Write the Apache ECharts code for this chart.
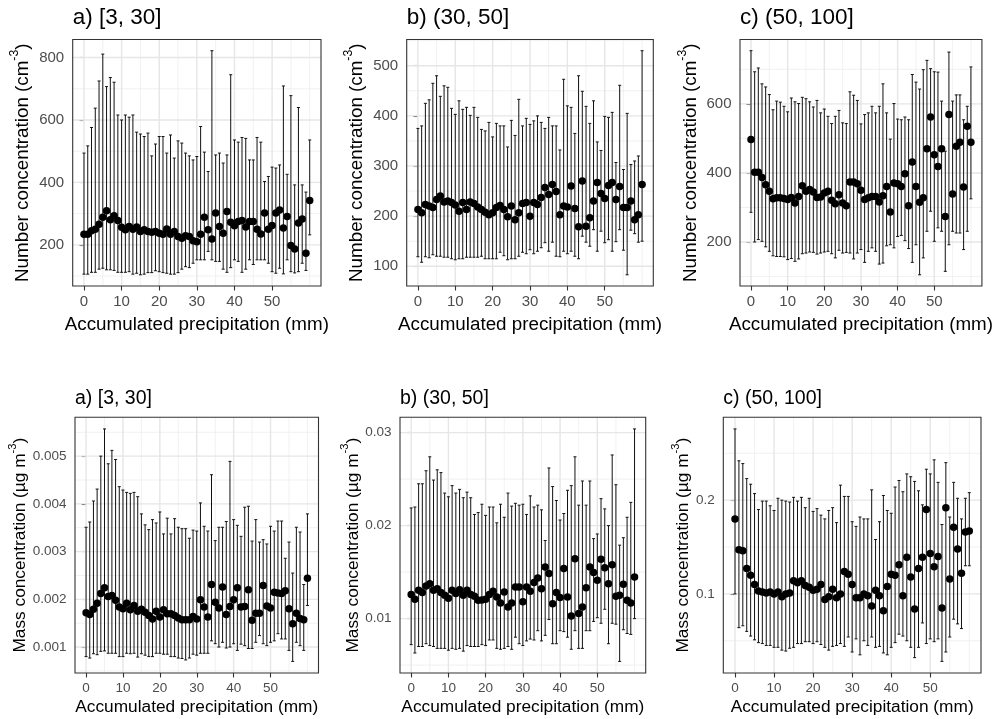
<!DOCTYPE html>
<html>
<head>
<meta charset="utf-8">
<script src="https://cdn.jsdelivr.net/npm/echarts@6/dist/echarts.min.js"></script>
<style>
  html, body { margin: 0; padding: 0; background: #fff; }
  #chart { width: 995px; height: 719px; }
</style>
</head>
<body>
<div id="chart"></div>
<script>
const FONT = "'Liberation Sans', Arial, sans-serif";

// accumulated precipitation (mm), shared by all panels
const precip = [0,1,2,3,4,5,6,7,8,9,10,11,12,13,14,15,16,17,18,19,20,21,22,23,24,25,26,27,28,29,30,
  31,32,33,34,35,36,37,38,39,40,41,42,43,44,45,46,47,48,49,50,51,52,53,54,55,56,57,58,59,60];
const xTicks = [0, 10, 20, 30, 40, 50];
const xMinor = [5, 15, 25, 35, 45, 55, 60];

// number concentration, a) [3, 30]
const nA_mean = [234,234,245,250,266,288,309,280,293,278,256,248,259,250,257,243,248,243,240,243,237,234,251,234,243,227,221,229,227,213,
  210,234,288,248,219,302,259,237,307,272,261,275,278,257,275,275,250,235,302,250,262,302,312,254,291,198,187,270,283,173,342];
const nA_hi = [494,517,576,638,725,811,707,736,721,616,600,616,609,616,561,555,547,558,485,523,547,547,494,552,478,533,526,494,485,472,
  483,579,497,435,822,488,494,462,488,745,536,529,544,541,472,472,544,529,403,419,449,446,456,709,426,678,392,640,392,369,536];
const nA_lo = [106,106,112,112,122,125,120,120,118,112,112,112,114,106,109,104,106,111,111,117,114,111,109,106,106,111,122,130,127,141,
  152,152,152,179,152,147,147,122,112,127,152,147,112,122,152,137,152,152,152,141,114,109,125,107,152,114,110,114,141,118,232];
const nA_ticks = [200, 400, 600, 800];

// number concentration, b) (30, 50]
const nB_mean = [213,207,223,220,217,233,240,228,230,227,222,210,227,213,228,225,218,213,208,203,207,217,221,213,199,220,193,207,225,227,
  200,227,223,237,257,243,263,249,203,220,218,260,215,179,270,180,197,230,267,245,235,261,267,233,259,217,217,230,193,203,263];
const nB_hi = [375,380,425,432,465,480,439,460,457,415,403,430,413,417,401,417,397,373,370,387,358,385,380,380,338,391,361,433,380,395,
  383,390,400,387,375,397,380,380,332,473,420,417,365,480,449,419,385,430,348,331,399,397,407,307,461,293,405,303,310,320,530];
const nB_lo = [119,108,119,117,123,120,120,118,118,115,113,115,115,118,118,118,118,120,115,115,115,115,128,121,113,115,115,120,128,125,
  133,125,130,137,147,130,148,120,119,130,125,130,120,115,160,148,140,173,130,170,147,153,130,149,173,132,83,172,165,148,150];
const nB_ticks = [100, 200, 300, 400, 500];

// number concentration, c) (50, 100]
const nC_mean = [497,402,402,387,366,347,325,328,328,326,323,329,313,332,363,347,352,345,329,330,342,347,321,311,337,313,305,374,374,369,
  350,323,328,332,332,316,334,361,287,371,369,361,398,305,432,361,315,328,470,562,453,419,470,274,569,339,477,489,359,535,489];
const nC_hi = [754,693,704,658,649,627,583,608,605,593,577,617,606,601,619,615,606,591,610,574,585,564,543,564,581,545,543,635,625,610,
  542,569,574,593,574,593,658,574,498,601,556,554,562,554,685,663,643,699,726,702,693,692,608,463,750,608,626,626,554,593,707];
const nC_lo = [286,200,207,202,186,173,160,158,158,157,149,152,144,151,166,168,171,170,165,168,171,173,166,154,176,168,170,168,151,168,
  178,141,173,183,173,136,139,189,192,183,216,219,204,181,141,192,105,154,231,289,202,241,231,115,192,231,226,226,178,231,325];
const nC_ticks = [200, 400, 600];

// mass concentration, a) [3, 30]
const mA_mean = [0.00172,0.00168,0.00179,0.00192,0.00212,0.00224,0.00206,0.00208,0.00198,0.00184,0.00180,0.00192,0.00178,0.00187,0.00175,
  0.00179,0.00173,0.00166,0.00159,0.00175,0.00163,0.00178,0.00170,0.00170,0.00166,0.00161,0.00157,0.00157,0.00157,0.00164,
  0.00159,0.00199,0.00184,0.00163,0.00231,0.00194,0.00182,0.00226,0.00168,0.00185,0.00199,0.00224,0.00184,0.00185,0.00220,
  0.00156,0.00171,0.00171,0.00229,0.00186,0.00182,0.00215,0.00213,0.00212,0.00218,0.00180,0.00149,0.00171,0.00160,0.00157,0.00244];
const mA_hi = [0.00351,0.00362,0.00406,0.00431,0.00500,0.00557,0.00484,0.00512,0.00493,0.00436,0.00429,0.00424,0.00422,0.00424,0.00415,
  0.00379,0.00356,0.00346,0.00367,0.00360,0.00383,0.00337,0.00370,0.00337,0.00369,0.00351,0.00348,0.00348,0.00328,0.00345,
  0.00343,0.00402,0.00353,0.00343,0.00461,0.00323,0.00351,0.00351,0.00363,0.00489,0.00367,0.00355,0.00332,0.00393,0.00395,
  0.00322,0.00367,0.00320,0.00325,0.00316,0.00353,0.00343,0.00364,0.00364,0.00286,0.00320,0.00255,0.00351,0.00341,0.00231,0.00379];
const mA_lo = [0.00080,0.00077,0.00086,0.00084,0.00091,0.00092,0.00087,0.00087,0.00087,0.00080,0.00080,0.00087,0.00086,0.00087,0.00079,
  0.00086,0.00083,0.00080,0.00080,0.00087,0.00087,0.00085,0.00085,0.00080,0.00080,0.00077,0.00076,0.00073,0.00077,0.00085,
  0.00083,0.00087,0.00087,0.00087,0.00113,0.00107,0.00100,0.00110,0.00098,0.00100,0.00107,0.00093,0.00106,0.00103,0.00097,
  0.00097,0.00110,0.00124,0.00107,0.00103,0.00110,0.00113,0.00128,0.00117,0.00117,0.00093,0.00070,0.00110,0.00103,0.00093,0.00187];
const mA_ticks = [0.001, 0.002, 0.003, 0.004, 0.005];

// mass concentration, b) (30, 50]
const mB_mean = [0.01258,0.01208,0.01305,0.0128,0.0135,0.01376,0.01305,0.0132,0.0128,0.0125,0.0122,0.01305,0.0127,0.0131,0.0125,
  0.01305,0.01258,0.0124,0.01197,0.0120,0.01208,0.01258,0.01294,0.01233,0.01168,0.01287,0.01125,0.01168,0.0134,0.0134,
  0.0118,0.0134,0.01294,0.01387,0.01437,0.0132,0.01556,0.01484,0.01161,0.0128,0.01226,0.01538,0.01233,0.01029,0.01645,
  0.01054,0.01125,0.01333,0.01556,0.01495,0.01412,0.01638,0.01548,0.01376,0.0158,0.0124,0.0125,0.0137,0.01197,0.01168,0.01448];
const mB_hi = [0.0219,0.0220,0.0245,0.0245,0.0259,0.0274,0.0249,0.0260,0.0257,0.0235,0.0231,0.0243,0.0235,0.0239,0.0230,
  0.0236,0.0230,0.0212,0.0214,0.0223,0.0211,0.0220,0.0220,0.0203,0.0223,0.0209,0.0235,0.0221,0.0224,0.0222,
  0.0223,0.0212,0.0232,0.0220,0.0222,0.0217,0.0184,0.0262,0.0242,0.0227,0.0206,0.0213,0.0238,0.0243,0.0274,
  0.0222,0.0248,0.0222,0.0248,0.0186,0.0191,0.0229,0.0218,0.0200,0.0276,0.0244,0.0179,0.0187,0.0209,0.0225,0.0304];
const mB_lo = [0.0072,0.0063,0.0070,0.0070,0.0073,0.0071,0.0070,0.0068,0.0068,0.0068,0.0066,0.0068,0.0067,0.0068,0.0065,
  0.0071,0.0070,0.0070,0.0070,0.0072,0.0071,0.0077,0.0077,0.0068,0.0067,0.0068,0.0070,0.0067,0.0080,0.0073,
  0.0071,0.0076,0.0078,0.0077,0.0087,0.0076,0.0082,0.0099,0.0073,0.0073,0.0087,0.0086,0.0080,0.0067,0.0087,
  0.0068,0.0068,0.0087,0.0087,0.0097,0.0101,0.0095,0.0110,0.0073,0.0095,0.0094,0.0054,0.0088,0.0084,0.0083,0.0100];
const mB_ticks = [0.01, 0.02, 0.03];

// mass concentration, c) (50, 100]
const mC_mean = [0.180,0.147,0.146,0.127,0.120,0.110,0.103,0.102,0.101,0.102,0.100,0.102,0.097,0.100,0.101,0.114,0.112,0.114,0.109,0.107,
  0.104,0.105,0.110,0.094,0.097,0.105,0.096,0.100,0.124,0.121,0.110,0.096,0.096,0.100,0.098,0.087,0.104,0.098,0.082,0.108,
  0.121,0.120,0.131,0.098,0.139,0.118,0.084,0.127,0.139,0.190,0.143,0.129,0.140,0.085,0.192,0.116,0.171,0.148,0.122,0.166,0.167];
const mC_hi = [0.276,0.242,0.239,0.223,0.217,0.207,0.190,0.199,0.199,0.194,0.189,0.202,0.200,0.199,0.198,0.203,0.199,0.203,0.192,0.202,
  0.188,0.191,0.184,0.180,0.189,0.192,0.176,0.216,0.204,0.204,0.177,0.172,0.182,0.180,0.180,0.211,0.158,0.177,0.205,0.189,
  0.186,0.214,0.221,0.209,0.228,0.225,0.220,0.210,0.195,0.233,0.228,0.243,0.219,0.174,0.240,0.182,0.219,0.202,0.180,0.202,0.208];
const mC_lo = [0.100,0.064,0.066,0.060,0.055,0.051,0.048,0.047,0.045,0.045,0.043,0.043,0.040,0.039,0.042,0.043,0.047,0.047,0.049,0.049,
  0.047,0.049,0.046,0.043,0.040,0.044,0.045,0.047,0.044,0.054,0.038,0.052,0.035,0.050,0.045,0.054,0.043,0.044,0.037,0.035,
  0.043,0.048,0.057,0.055,0.050,0.043,0.032,0.043,0.069,0.047,0.052,0.049,0.052,0.028,0.038,0.054,0.073,0.068,0.063,0.130,0.130];
const mC_ticks = [0.1, 0.2];

const NUM_NAME = '{t|Number concentration (cm}{s|-3}{t|)}';
const MASS_NAME = '{t|Mass concentration (µg m}{s|-3}{t|)}';
const X_NAME = 'Accumulated precipitation (mm)';

// text sizes per row, and panel rectangles [left, top, width, height]
const rowTop = { title: 22.5, name: 18.8, tick: 15, titleTop: 6.5, xGap: 29 };
const rowBot = { title: 19.5, name: 17.3, tick: 13.5, titleTop: 389, xGap: 26 };
const panels = [
  { title: 'a) [3, 30]',   mean: nA_mean, lo: nA_lo, hi: nA_hi, ticks: nA_ticks, yName: NUM_NAME,  box: [72.7, 39.5, 248.3, 246.5], s: rowTop, yGap: 40 },
  { title: 'b) (30, 50]',  mean: nB_mean, lo: nB_lo, hi: nB_hi, ticks: nB_ticks, yName: NUM_NAME,  box: [406.7, 39.5, 246.6, 246.5], s: rowTop, yGap: 40 },
  { title: 'c) (50, 100]', mean: nC_mean, lo: nC_lo, hi: nC_hi, ticks: nC_ticks, yName: NUM_NAME,  box: [740, 39.5, 247.7, 246.5], s: rowTop, yGap: 40 },
  { title: 'a) [3, 30]',   mean: mA_mean, lo: mA_lo, hi: mA_hi, ticks: mA_ticks, yName: MASS_NAME, box: [75, 417.3, 243.5, 255.7], s: rowBot, yGap: 46 },
  { title: 'b) (30, 50]',  mean: mB_mean, lo: mB_lo, hi: mB_hi, ticks: mB_ticks, yName: MASS_NAME, box: [400, 417.3, 245.7, 255.7], s: rowBot, yGap: 38 },
  { title: 'c) (50, 100]', mean: mC_mean, lo: mC_lo, hi: mC_hi, ticks: mC_ticks, yName: MASS_NAME, box: [723.3, 417.3, 257.7, 255.7], s: rowBot, yGap: 31 },
];

const option = { animation: false, title: [], grid: [], xAxis: [], yAxis: [], series: [] };
const X_MIN = -3, X_MAX = 63;

panels.forEach((p, i) => {
  // ggplot-like 5% expansion of the data range
  const dLo = Math.min(...p.lo), dHi = Math.max(...p.hi);
  const pad = (dHi - dLo) * 0.05;
  const yMin = dLo - pad, yMax = dHi + pad;
  const step = p.ticks[1] - p.ticks[0];
  const yMinor = [];
  for (let k = -1; k < p.ticks.length; k++) {
    const v = p.ticks[0] + (k + 0.5) * step;
    if (v > yMin && v < yMax) yMinor.push(v);
  }

  option.title.push({
    text: p.title, left: p.box[0], top: p.s.titleTop, padding: 0,
    textStyle: { fontFamily: FONT, fontSize: p.s.title, fontWeight: 'normal', color: '#000' },
  });
  option.grid.push({ left: p.box[0], top: p.box[1], width: p.box[2], height: p.box[3] });

  const tickStyle = { show: true, length: 4.5, lineStyle: { color: '#333', width: 1.1 } };
  const labelStyle = { color: '#4D4D4D', fontFamily: FONT, fontSize: p.s.tick, formatter: (v) => `${v}` };

  option.xAxis.push({
    gridIndex: i, type: 'value', min: X_MIN, max: X_MAX,
    splitLine: { show: false }, axisLine: { show: false },
    axisTick: { ...tickStyle, customValues: xTicks },
    axisLabel: { ...labelStyle, customValues: xTicks, margin: 8 },
    name: X_NAME, nameLocation: 'middle', nameGap: p.s.xGap,
    nameTextStyle: { fontFamily: FONT, fontSize: p.s.name, color: '#000' },
  });
  option.yAxis.push({
    gridIndex: i, type: 'value', min: yMin, max: yMax,
    splitLine: { show: false }, axisLine: { show: false },
    axisTick: { ...tickStyle, customValues: p.ticks },
    axisLabel: { ...labelStyle, customValues: p.ticks, margin: 8.5 },
    name: p.yName, nameLocation: 'middle', nameRotate: 90, nameGap: p.yGap,
    nameTextStyle: {
      fontFamily: FONT, fontSize: p.s.name, color: '#000',
      rich: {
        t: { fontFamily: FONT, fontSize: p.s.name, color: '#000', verticalAlign: 'bottom' },
        s: { fontFamily: FONT, fontSize: p.s.name * 0.65, color: '#000', verticalAlign: 'bottom',
             padding: [0, 0, p.s.name * 0.62, 0] },
      },
    },
  });

  // background grid lines: [kind (0 vertical, 1 horizontal), value, major]
  const lines = [];
  xMinor.forEach((v) => lines.push([0, v, 0]));
  yMinor.forEach((v) => lines.push([1, v, 0]));
  xTicks.forEach((v) => lines.push([0, v, 1]));
  p.ticks.forEach((v) => lines.push([1, v, 1]));

  option.series.push({
    type: 'custom', xAxisIndex: i, yAxisIndex: i, z: 1, silent: true,
    data: lines,
    renderItem: (params, api) => {
      const cs = params.coordSys;
      const v = api.value(1);
      const major = api.value(2);
      const style = { stroke: major ? '#E6E6E6' : '#EDEDED', lineWidth: major ? 1.4 : 0.8 };
      if (api.value(0) === 0) {
        const x = api.coord([v, yMin])[0];
        return { type: 'line', shape: { x1: x, y1: cs.y, x2: x, y2: cs.y + cs.height }, style };
      }
      const y = api.coord([X_MIN, v])[1];
      return { type: 'line', shape: { x1: cs.x, y1: y, x2: cs.x + cs.width, y2: y }, style };
    },
  });

  // error bars
  option.series.push({
    type: 'custom', xAxisIndex: i, yAxisIndex: i, z: 2, silent: true,
    data: precip.map((x, k) => [x, p.lo[k], p.hi[k]]),
    encode: { x: 0, y: [1, 2] },
    renderItem: (params, api) => {
      const a = api.coord([api.value(0), api.value(1)]);
      const b = api.coord([api.value(0), api.value(2)]);
      const w = 1.5;
      const style = { stroke: '#111', lineWidth: 1 };
      return {
        type: 'group',
        children: [
          { type: 'line', shape: { x1: a[0], y1: a[1], x2: b[0], y2: b[1] }, style },
          { type: 'line', shape: { x1: a[0] - w, y1: a[1], x2: a[0] + w, y2: a[1] }, style },
          { type: 'line', shape: { x1: b[0] - w, y1: b[1], x2: b[0] + w, y2: b[1] }, style },
        ],
      };
    },
  });

  // means
  option.series.push({
    type: 'scatter', xAxisIndex: i, yAxisIndex: i, z: 3, silent: true,
    symbolSize: 7.5, itemStyle: { color: '#000', opacity: 1 },
    data: precip.map((x, k) => [x, p.mean[k]]),
  });

  // panel border
  option.series.push({
    type: 'custom', xAxisIndex: i, yAxisIndex: i, z: 4, silent: true,
    data: [[0, 0]],
    renderItem: (params) => {
      const cs = params.coordSys;
      return { type: 'rect', shape: { x: cs.x, y: cs.y, width: cs.width, height: cs.height },
               style: { fill: 'none', stroke: '#333', lineWidth: 1.1 } };
    },
  });
});

echarts.init(document.getElementById('chart'), null, { renderer: 'canvas' }).setOption(option);
</script>
</body>
</html>
